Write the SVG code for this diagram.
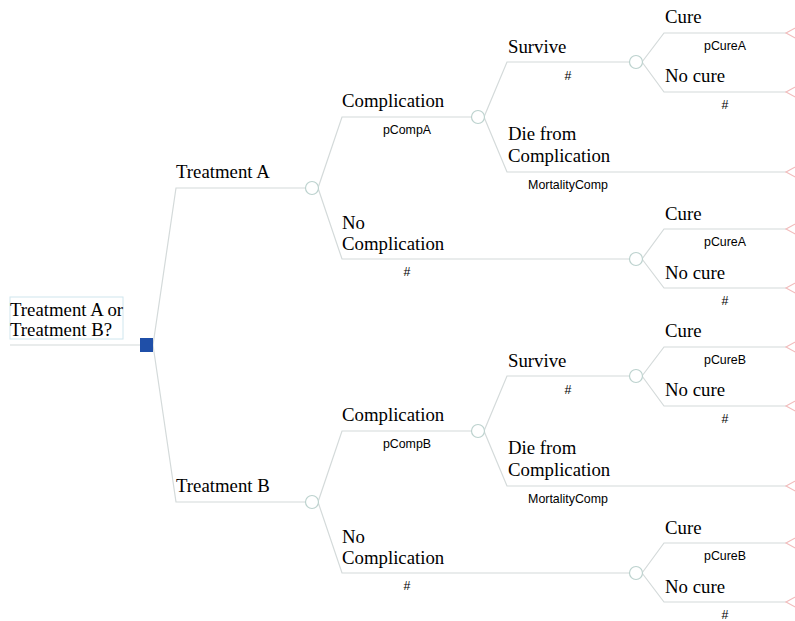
<svg xmlns="http://www.w3.org/2000/svg" width="795" height="621" viewBox="0 0 795 621">
<style>
.ln{fill:none;stroke:#d4dada;stroke-width:1.2}
.ch{fill:#fff;stroke:#bcd2ce;stroke-width:1.2}
.tm{fill:#fff;stroke:#f2bcbc;stroke-width:1.1}
.lb{font-family:"Liberation Serif","Times New Roman",serif;font-size:18.8px;fill:#000}
.pr{font-family:"Liberation Sans",Arial,sans-serif;font-size:12.4px;fill:#000;text-anchor:middle}
</style>
<rect width="795" height="621" fill="#fff"/>
<g id="connectors">
<path class="ln" d="M10,345 H140"/>
<path class="ln" d="M153,345 L176,188 H306"/>
<path class="ln" d="M153,345 L176,502 H306"/>
<path class="ln" d="M318,188 L342,117 H472"/>
<path class="ln" d="M318,188 L342,259 H630"/>
<path class="ln" d="M484,117 L507,62 H630"/>
<path class="ln" d="M484,117 L507,172 H786"/>
<path class="ln" d="M642,62 L664,33 H786"/>
<path class="ln" d="M642,62 L664,92 H786"/>
<path class="ln" d="M642,259 L664,229 H786"/>
<path class="ln" d="M642,259 L664,288 H786"/>
<path class="ln" d="M318,502 L342,431 H472"/>
<path class="ln" d="M318,502 L342,573 H630"/>
<path class="ln" d="M484,431 L507,376 H630"/>
<path class="ln" d="M484,431 L507,486 H786"/>
<path class="ln" d="M642,376 L664,347 H786"/>
<path class="ln" d="M642,376 L664,406 H786"/>
<path class="ln" d="M642,573 L664,543 H786"/>
<path class="ln" d="M642,573 L664,602 H786"/>
</g>
<g id="decision">
<rect x="10" y="297" width="113" height="42" fill="#fff" stroke="#cfe6ee" stroke-width="1"/>
<text class="lb" x="10" y="316">Treatment A or</text>
<text class="lb" x="10" y="336">Treatment B?</text>
<rect x="140" y="338" width="13" height="14" fill="#1f4fa8"/>
</g>
<g id="treatmentA">
<text class="lb" x="176" y="178">Treatment A</text>
<circle class="ch" cx="312" cy="188" r="6.5"/>
</g>
<g id="complicationA">
<text class="lb" x="342" y="107">Complication</text>
<text class="pr" x="407" y="134">pCompA</text>
<circle class="ch" cx="478" cy="117" r="6.5"/>
</g>
<g id="surviveA">
<text class="lb" x="508" y="53">Survive</text>
<text class="pr" x="568" y="80">#</text>
<circle class="ch" cx="636" cy="62" r="6.5"/>
</g>
<g id="cureA1">
<text class="lb" x="665" y="23">Cure</text>
<text class="pr" x="725" y="50">pCureA</text>
<polygon class="tm" points="786,33 799,26 799,40"/>
</g>
<g id="nocureA1">
<text class="lb" x="665" y="82">No cure</text>
<text class="pr" x="725" y="109">#</text>
<polygon class="tm" points="786,92 799,85 799,99"/>
</g>
<g id="dieA">
<text class="lb" x="508" y="140">Die from</text>
<text class="lb" x="508" y="162">Complication</text>
<text class="pr" x="568" y="189">MortalityComp</text>
<polygon class="tm" points="786,172 799,165 799,179"/>
</g>
<g id="nocompA">
<text class="lb" x="342" y="229">No</text>
<text class="lb" x="342" y="250">Complication</text>
<text class="pr" x="407" y="276">#</text>
<circle class="ch" cx="636" cy="259" r="6.5"/>
</g>
<g id="cureA2">
<text class="lb" x="665" y="220">Cure</text>
<text class="pr" x="725" y="246">pCureA</text>
<polygon class="tm" points="786,229 799,222 799,236"/>
</g>
<g id="nocureA2">
<text class="lb" x="665" y="279">No cure</text>
<text class="pr" x="725" y="305">#</text>
<polygon class="tm" points="786,288 799,281 799,295"/>
</g>
<g id="treatmentB">
<text class="lb" x="176" y="492">Treatment B</text>
<circle class="ch" cx="312" cy="502" r="6.5"/>
</g>
<g id="complicationB">
<text class="lb" x="342" y="421">Complication</text>
<text class="pr" x="407" y="448">pCompB</text>
<circle class="ch" cx="478" cy="431" r="6.5"/>
</g>
<g id="surviveB">
<text class="lb" x="508" y="367">Survive</text>
<text class="pr" x="568" y="394">#</text>
<circle class="ch" cx="636" cy="376" r="6.5"/>
</g>
<g id="cureB1">
<text class="lb" x="665" y="337">Cure</text>
<text class="pr" x="725" y="364">pCureB</text>
<polygon class="tm" points="786,347 799,340 799,354"/>
</g>
<g id="nocureB1">
<text class="lb" x="665" y="396">No cure</text>
<text class="pr" x="725" y="423">#</text>
<polygon class="tm" points="786,406 799,399 799,413"/>
</g>
<g id="dieB">
<text class="lb" x="508" y="454">Die from</text>
<text class="lb" x="508" y="476">Complication</text>
<text class="pr" x="568" y="503">MortalityComp</text>
<polygon class="tm" points="786,486 799,479 799,493"/>
</g>
<g id="nocompB">
<text class="lb" x="342" y="543">No</text>
<text class="lb" x="342" y="564">Complication</text>
<text class="pr" x="407" y="590">#</text>
<circle class="ch" cx="636" cy="573" r="6.5"/>
</g>
<g id="cureB2">
<text class="lb" x="665" y="534">Cure</text>
<text class="pr" x="725" y="560">pCureB</text>
<polygon class="tm" points="786,543 799,536 799,550"/>
</g>
<g id="nocureB2">
<text class="lb" x="665" y="593">No cure</text>
<text class="pr" x="725" y="619">#</text>
<polygon class="tm" points="786,602 799,595 799,609"/>
</g>
</svg>
